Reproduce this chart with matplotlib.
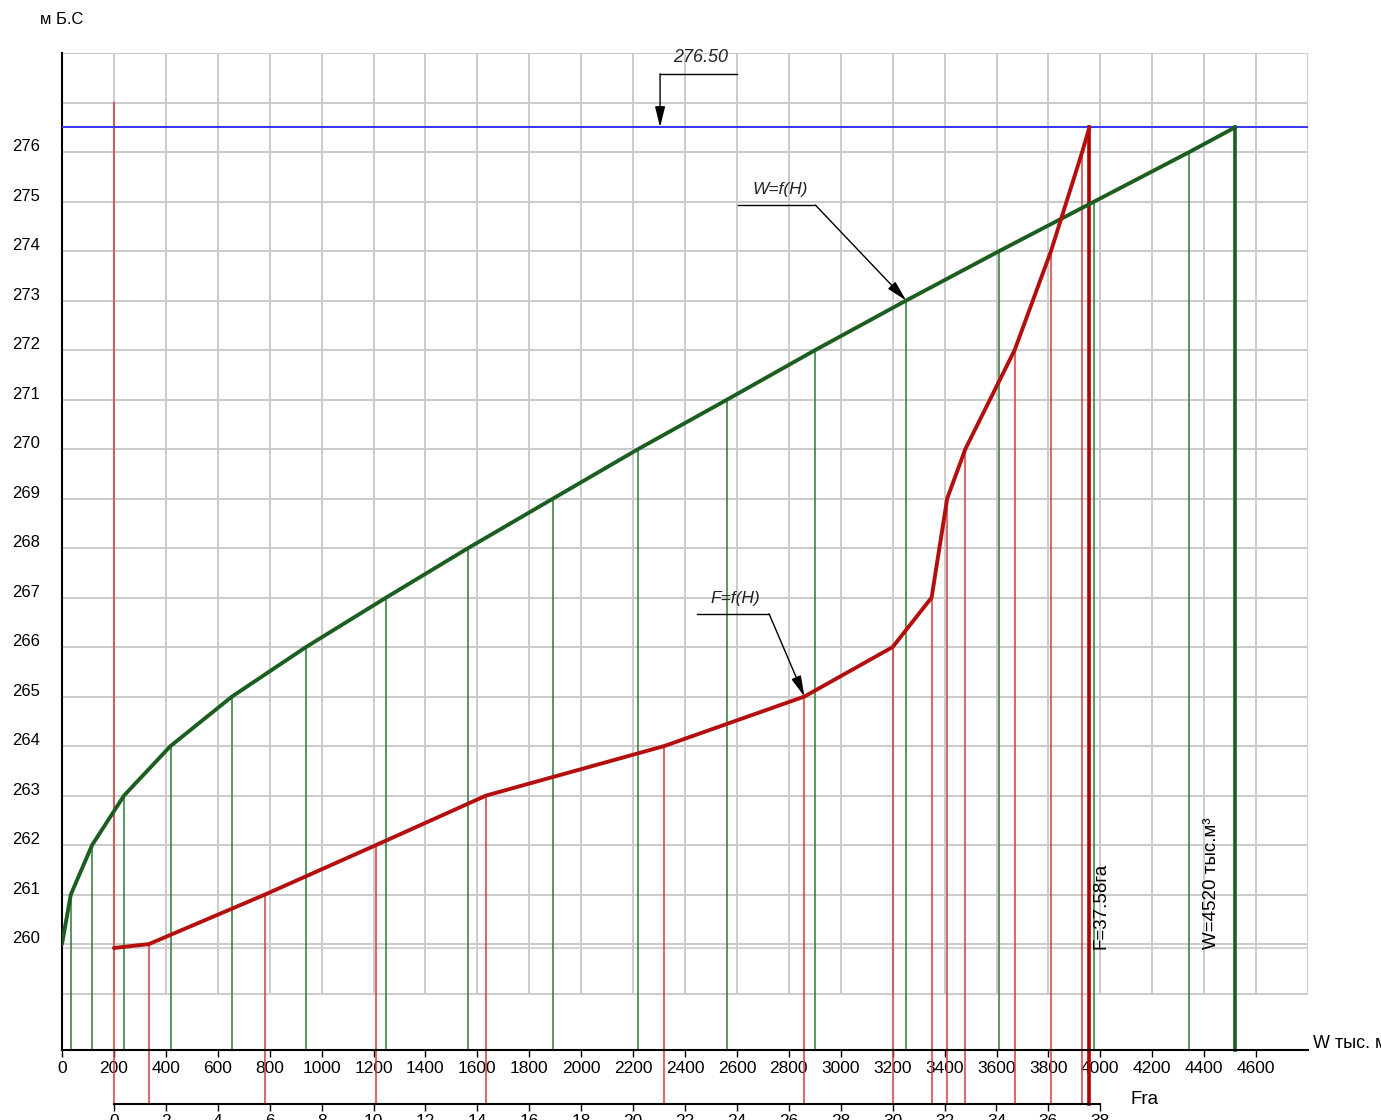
import numpy as np
import matplotlib
matplotlib.use('Agg')
import matplotlib.pyplot as plt
from matplotlib import font_manager
from matplotlib.transforms import ScaledTranslation

# ---------------- data ----------------
levels_w = [260, 261, 262, 263, 264, 265, 266, 267, 268, 269, 270, 271, 272, 273, 274, 275, 276, 276.5]
volume_w = [0, 34, 116, 239, 418, 655, 940, 1249, 1565, 1892, 2220, 2563, 2902, 3252, 3611, 3977, 4343, 4520]
levels_f = [259.92, 260, 261, 262, 263, 264, 265, 266, 267, 269, 270, 272, 274, 276, 276.5]
area_f = [0, 1.35, 5.82, 10.1, 14.34, 21.2, 26.6, 30.0, 31.5, 32.1, 32.8, 34.7, 36.1, 37.3, 37.58]
nrl_level = 276.5
w_ticks = list(range(0, 4601, 200))
f_ticks = list(range(0, 39, 2))
h_ticks = list(range(260, 277))

names = {f.name for f in font_manager.fontManager.ttflist}
narrow = 'Liberation Sans Narrow' if 'Liberation Sans Narrow' in names else 'Liberation Sans'
plt.rcParams['font.family'] = ['Liberation Sans', 'DejaVu Sans']

W_PX, H_PX = 1381, 1120
fig = plt.figure(figsize=(W_PX / 100, H_PX / 100), dpi=100)

def fx(px):
    return px / W_PX

def fy(py):
    return 1 - py / H_PX

ax = fig.add_axes([fx(62), fy(1050), fx(1308) - fx(62), fy(53) - fy(1050)])
ax.set_xlim(0, 4800)
ax.set_ylim(257.86, 278)
ax.patch.set_alpha(0)

# F axis (secondary), F -> W mapping: W = 200 + 100*F
def f_to_w(f):
    return 200 + 100 * np.asarray(f)

F_AXIS_Y = fy(1104)
ax2 = fig.add_axes([fx(62), F_AXIS_Y, fx(1308) - fx(62), 0.0001])
ax2.set_xlim(-2, 46)
ax2.patch.set_alpha(0)
for s in ['top', 'left', 'right']:
    ax2.spines[s].set_visible(False)
ax2.spines['bottom'].set_bounds(0, 38)
ax2.spines['bottom'].set_linewidth(1.5)
ax2.set_yticks([])
ax2.set_xticks(f_ticks)
ax2.tick_params(axis='x', direction='out', length=5, width=1, pad=2, labelsize=12.5)
for lab in ax2.get_xticklabels():
    lab.set_family([narrow, 'DejaVu Sans'])

# grid
grid_c = '#cbcbcb'
ax.vlines(np.arange(0, 4801, 200), 259, 278, colors=grid_c, lw=1.4, zorder=0)
ax.hlines(np.arange(259, 279, 1), 0, 4800, colors=grid_c, lw=1.4, zorder=0)
ax.hlines([levels_f[0]], 0, 4800, colors=grid_c, lw=1.2, zorder=0)

# bottom of red verticals (at F axis)
y_disp = fig.transFigure.transform((0, F_AXIS_Y))[1]
h_bottom = ax.transData.inverted().transform((0, y_disp))[1]
h_axis = ax.get_ylim()[0]

# green verticals
for i, (w, h) in enumerate(zip(volume_w, levels_w)):
    last = i == len(volume_w) - 1
    ax.plot([w, w], [h, h_axis], color='#1b5e20' if last else '#2f7a35',
            lw=2.6 if last else 1.3, alpha=1 if last else 0.85, zorder=2, clip_on=False)

# red verticals
for i, (f, h) in enumerate(zip(area_f, levels_f)):
    w = f_to_w(f)
    last = i == len(area_f) - 1
    top = 277 if i == 0 else h
    ax.plot([w, w], [top, h_bottom], color='#b00000' if last else '#d03a3a',
            lw=2.6 if last else 1.5, alpha=1 if last else 0.75, zorder=2, clip_on=False)

# NRL line
ax.axhline(nrl_level, color='#3535ff', lw=1.4, zorder=3)

# curves
ax.plot(volume_w, levels_w, color='#1b5e20', lw=2.8, zorder=4, solid_capstyle='round')
ax.plot(f_to_w(area_f), levels_f, color='#b30f0f', lw=2.8, zorder=4, solid_capstyle='round')

# spines
for s in ['top', 'right']:
    ax.spines[s].set_visible(False)
ax.spines['left'].set_linewidth(1.5)
ax.spines['bottom'].set_linewidth(1.5)

# ticks
ax.set_xticks(w_ticks)
ax.tick_params(axis='x', direction='out', length=5, width=1, pad=3, labelsize=12.5)
for lab in ax.get_xticklabels():
    lab.set_family([narrow, 'DejaVu Sans'])
ax.set_yticks(h_ticks)
ax.tick_params(axis='y', length=0, pad=16, labelsize=12)
for lab in ax.get_yticklabels():
    lab.set_transform(lab.get_transform() + ScaledTranslation(0, 7 / 100, fig.dpi_scale_trans))

# annotations
ah = dict(arrowstyle='-|>,head_length=0.9,head_width=0.22', color='black', lw=1.0,
          shrinkA=0, shrinkB=0, mutation_scale=14)
# 276.50
ax.plot([2304, 2601], [277.58, 277.58], color='black', lw=1.0, zorder=5)
ax.annotate('', xy=(2304, nrl_level), xytext=(2304, 277.58), arrowprops=ah, zorder=5)
ax.text(2459, 277.9, '276.50', style='italic', fontsize=13, ha='center', va='center',
        color='#222222', zorder=6)
# W=f(H)
ax.plot([2605, 2902], [274.93, 274.93], color='black', lw=1.0, zorder=5)
ax.annotate('', xy=(volume_w[13], levels_w[13]), xytext=(2902, 274.93), arrowprops=ah, zorder=5)
ax.text(2767, 275.25, 'W=f(H)', style='italic', fontsize=12.5, ha='center', va='center',
        color='#222222', zorder=6)
# F=f(H)
ax.plot([2447, 2724], [266.67, 266.67], color='black', lw=1.0, zorder=5)
ax.annotate('', xy=(f_to_w(area_f[6]), levels_f[6]), xytext=(2724, 266.67), arrowprops=ah, zorder=5)
ax.text(2593, 266.98, 'F=f(H)', style='italic', fontsize=12.5, ha='center', va='center',
        color='#222222', zorder=6)

# rotated labels
ax.text(f_to_w(area_f[-1]) + 45, 259.9, 'F=37.58га', rotation=90, ha='center', va='bottom',
        fontsize=13.5, family=[narrow, 'DejaVu Sans'], color='black', zorder=6)
ax.text(4430, 259.9, 'W=4520 тыс.м³', rotation=90, ha='center', va='bottom',
        fontsize=13.5, family=[narrow, 'DejaVu Sans'], color='black', zorder=6)

# axis titles
fig.text(fx(1313), fy(1043), 'W тыс. м³', fontsize=13, ha='left', va='center')
fig.text(fx(1131), fy(1100), 'Fra', fontsize=13.5, ha='left', va='center')
fig.text(fx(40), fy(20), 'м Б.С', fontsize=12, ha='left', va='center')

fig.savefig('out.png', dpi=100)
